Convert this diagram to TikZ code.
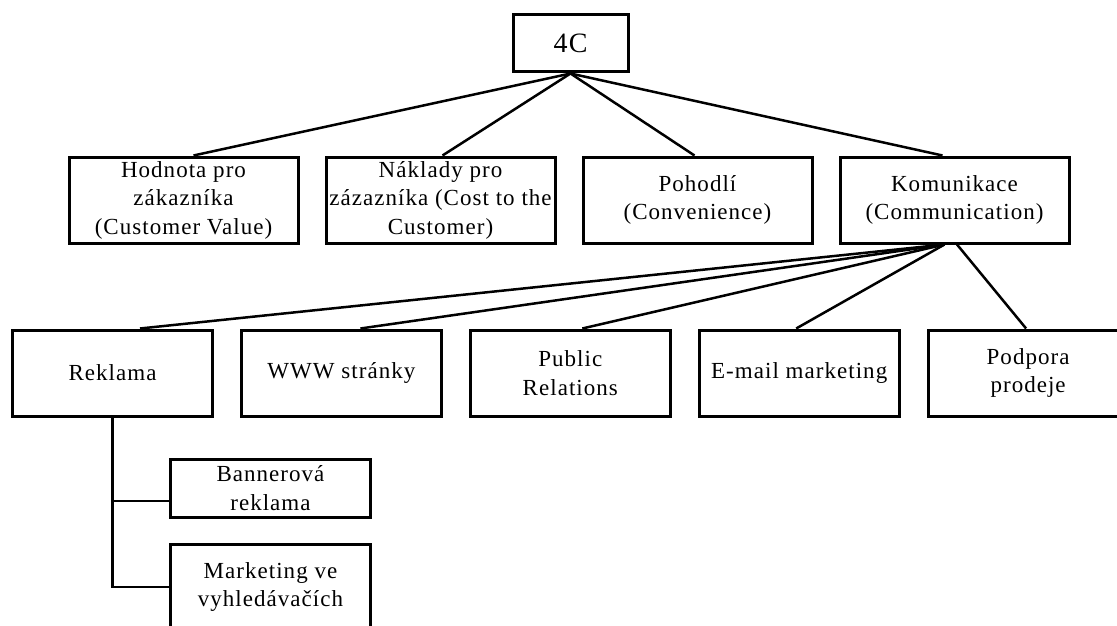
\documentclass[tikz,border=0pt]{standalone}
\usepackage{fontspec}
\setmainfont{Liberation Serif}[LetterSpace=4.5]
\usepackage{tikz}
\usetikzlibrary{positioning}

\begin{document}
\begin{tikzpicture}[
  x=1pt, y=-1pt,
  box/.style={draw, line width=3pt, align=center, inner sep=1pt,
    minimum height=86pt, font=\fontsize{23}{28.5}\selectfont},
  topbox/.style={box, minimum width=229pt},
  subbox/.style={box, minimum width=200pt},
  link/.style={line width=2.5pt}
]

% 画布(参考图 1117x626)
\useasboundingbox (0,0) rectangle (1117,626);
\clip (0,0) rectangle (1117,626);

% 顶层 4C
\node[box, minimum width=115pt, minimum height=57pt,
  font=\fontsize{28}{30}\selectfont] (C4) at (570.5,43.5) {4C};

% 第二层
\node[topbox] (hod) at (183.5,200) {Hodnota pro\\ zákazníka\\ (Customer Value)};
\node[topbox, right=25pt of hod] (nak) {Náklady pro\\ zázazníka (Cost to the\\ Customer)};
\node[topbox, right=25pt of nak] (poh) {Pohodlí\\ (Convenience)};
\node[topbox, right=25pt of poh] (kom) {Komunikace\\ (Communication)};

% 第三层
\node[subbox] (rek) at (112.5,373) {Reklama};
\node[subbox, right=25.9pt of rek] (www) {WWW stránky};
\node[subbox, right=25.9pt of www] (pr) {Public\\ Relations};
\node[subbox, right=25.9pt of pr] (mail) {E-mail marketing};
\node[subbox, right=25.9pt of mail] (pod) {Podpora\\ prodeje};

% Reklama 下面
\node[subbox, minimum height=58pt] (ban) at (270.5,488) {Bannerová\\ reklama};
\node[subbox] (mkt) at (270.5,587) {Marketing ve\\ vyhledávačích};

% 连线
\foreach \n/\s in {hod/10, nak/2, poh/-3, kom/-12}
  \draw[link] (C4.south) -- ([xshift=\s pt]\n.north);
\foreach \n/\s in {rek/27.5, www/19, pr/12, mail/-3}
  \draw[link] ([xshift=-10pt]kom.south) -- ([xshift=\s pt]\n.north);
\draw[link] ([xshift=2.5pt]kom.south) -- ([xshift=-2pt]pod.north);

\draw[link] (rek.south) |- ([yshift=-13pt]ban.west);
\draw[link] (rek.south) |- (mkt.west);

\end{tikzpicture}
\end{document}
